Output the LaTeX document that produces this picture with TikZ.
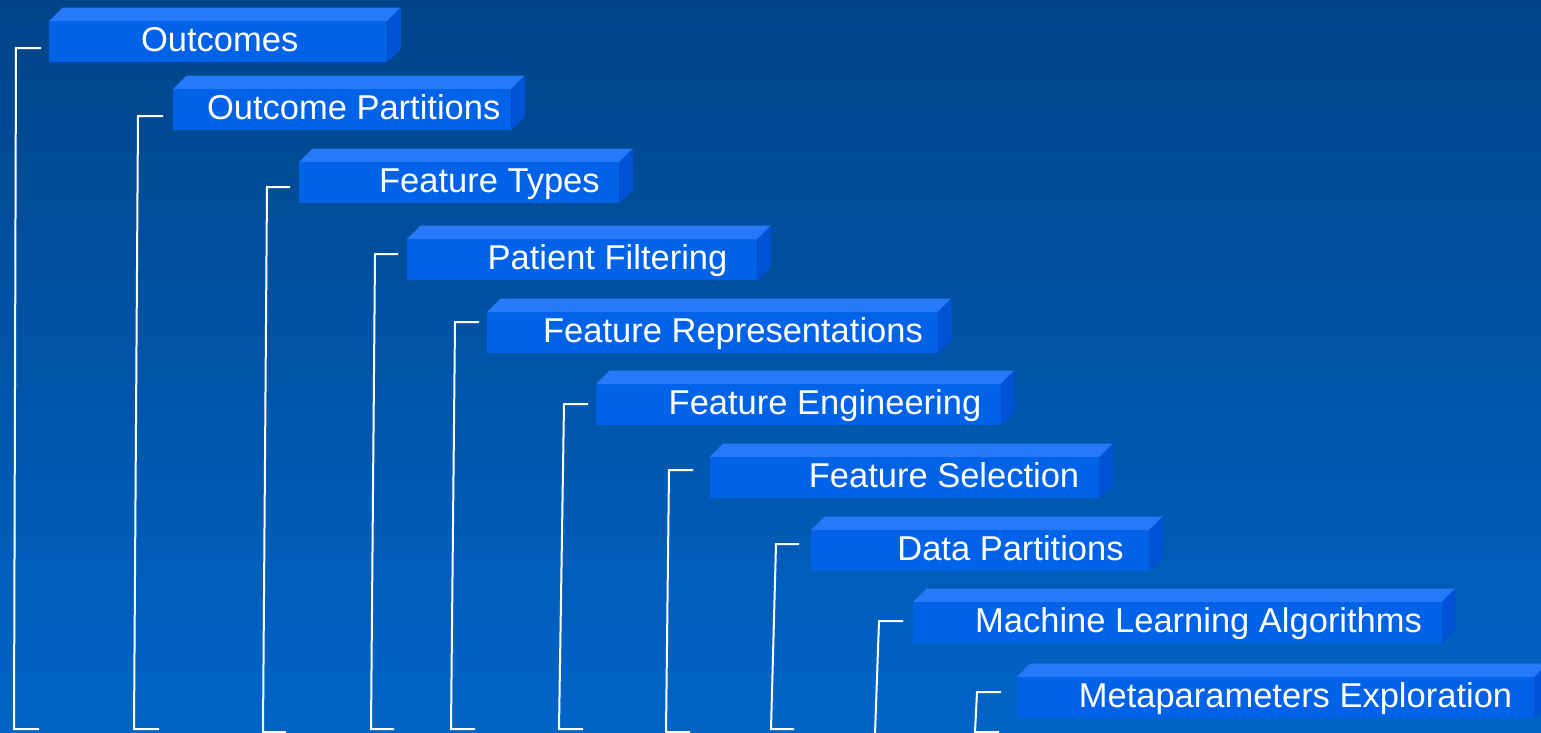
\documentclass[tikz,border=0pt]{standalone}
\usepackage{fontspec}
\setmainfont{Liberation Sans}
\definecolor{bgtop}{RGB}{0,68,136}
\definecolor{bgbottom}{RGB}{0,100,199}
\definecolor{barfront}{RGB}{0,98,230}
\definecolor{bartop}{RGB}{38,122,247}
\definecolor{barside}{RGB}{0,82,214}
\begin{document}
\begin{tikzpicture}[x=1pt,y=-1pt]
\tikzstyle{every node}+=[inner sep=0pt]
\tikzstyle{front}=[fill=barfront, minimum height=41pt, anchor=north west]
\tikzstyle{lbl}=[text=white, font=\fontsize{34.5}{40}\selectfont, anchor=base]
\tikzstyle{bracket}=[white, line width=2pt]
\useasboundingbox (0,0) rectangle (1541,732);
\shade [top color=bgtop, bottom color=bgbottom] (0,0) rectangle (1541,732);
% Outcomes
\node [front, minimum width=338pt] (b1) at (49,21) {};
\fill [bartop] (b1.north west) -- ++(13.5,-13.5) -- ([shift={(13.5,-13.5)}]b1.north east) -- (b1.north east) -- cycle;
\fill [barside] (b1.north east) -- ++(13.5,-13.5) -- ([shift={(13.5,-13.5)}]b1.south east) -- (b1.south east) -- cycle;
\node [lbl] (t1) at (219.7,51.5) {Outcomes};
\draw [bracket] ([shift={(-8,6.5)}]b1.west) -- ++(-25,0) -- ++(-2,681) -- ++(25,0);
% Outcome Partitions
\node [front, minimum width=338pt] (b2) at (173,89) {};
\fill [bartop] (b2.north west) -- ++(13.5,-13.5) -- ([shift={(13.5,-13.5)}]b2.north east) -- (b2.north east) -- cycle;
\fill [barside] (b2.north east) -- ++(13.5,-13.5) -- ([shift={(13.5,-13.5)}]b2.south east) -- (b2.south east) -- cycle;
\node [lbl] (t2) at (353.7,119.5) {Outcome Partitions};
\draw [bracket] ([shift={(-10,6.5)}]b2.west) -- ++(-25,0) -- ++(-4,613) -- ++(25,0);
% Feature Types
\node [front, minimum width=320pt] (b3) at (299,162) {};
\fill [bartop] (b3.north west) -- ++(13.5,-13.5) -- ([shift={(13.5,-13.5)}]b3.north east) -- (b3.north east) -- cycle;
\fill [barside] (b3.north east) -- ++(13.5,-13.5) -- ([shift={(13.5,-13.5)}]b3.south east) -- (b3.south east) -- cycle;
\node [lbl] (t3) at (489.4,192.5) {Feature Types};
\draw [bracket] ([shift={(-9,4.5)}]b3.west) -- ++(-23,0) -- ++(-4,545) -- ++(23,0);
% Patient Filtering
\node [front, minimum width=350pt] (b4) at (407,239) {};
\fill [bartop] (b4.north west) -- ++(13.5,-13.5) -- ([shift={(13.5,-13.5)}]b4.north east) -- (b4.north east) -- cycle;
\fill [barside] (b4.north east) -- ++(13.5,-13.5) -- ([shift={(13.5,-13.5)}]b4.south east) -- (b4.south east) -- cycle;
\node [lbl] (t4) at (607.5,269.5) {Patient Filtering};
\draw [bracket] ([shift={(-9,-5.5)}]b4.west) -- ++(-23,0) -- ++(-4,475) -- ++(23,0);
% Feature Representations
\node [front, minimum width=450.5pt] (b5) at (487,312) {};
\fill [bartop] (b5.north west) -- ++(13.5,-13.5) -- ([shift={(13.5,-13.5)}]b5.north east) -- (b5.north east) -- cycle;
\fill [barside] (b5.north east) -- ++(13.5,-13.5) -- ([shift={(13.5,-13.5)}]b5.south east) -- (b5.south east) -- cycle;
\node [lbl] (t5) at (733,342.5) {Feature Representations};
\draw [bracket] ([shift={(-8,-10.5)}]b5.west) -- ++(-24,0) -- ++(-4,407) -- ++(24,0);
% Feature Engineering
\node [front, minimum width=404.5pt] (b6) at (596,384) {};
\fill [bartop] (b6.north west) -- ++(13.5,-13.5) -- ([shift={(13.5,-13.5)}]b6.north east) -- (b6.north east) -- cycle;
\fill [barside] (b6.north east) -- ++(13.5,-13.5) -- ([shift={(13.5,-13.5)}]b6.south east) -- (b6.south east) -- cycle;
\node [lbl] (t6) at (825,414.5) {Feature Engineering};
\draw [bracket] ([shift={(-8,-0.5)}]b6.west) -- ++(-24,0) -- ++(-5,325) -- ++(24,0);
% Feature Selection
\node [front, minimum width=389.5pt] (b7) at (709.5,457) {};
\fill [bartop] (b7.north west) -- ++(13.5,-13.5) -- ([shift={(13.5,-13.5)}]b7.north east) -- (b7.north east) -- cycle;
\fill [barside] (b7.north east) -- ++(13.5,-13.5) -- ([shift={(13.5,-13.5)}]b7.south east) -- (b7.south east) -- cycle;
\node [lbl] (t7) at (944,487.5) {Feature Selection};
\draw [bracket] ([shift={(-16.5,-7.5)}]b7.west) -- ++(-24,0) -- ++(-3,262) -- ++(24,0);
% Data Partitions
\node [front, minimum width=338pt] (b8) at (811,530) {};
\fill [bartop] (b8.north west) -- ++(13.5,-13.5) -- ([shift={(13.5,-13.5)}]b8.north east) -- (b8.north east) -- cycle;
\fill [barside] (b8.north east) -- ++(13.5,-13.5) -- ([shift={(13.5,-13.5)}]b8.south east) -- (b8.south east) -- cycle;
\node [lbl] (t8) at (1010.5,560.5) {Data Partitions};
\draw [bracket] ([shift={(-12,-6.5)}]b8.west) -- ++(-23,0) -- ++(-5,185) -- ++(23,0);
% Machine Learning Algorithms
\node [front, minimum width=528.5pt] (b9) at (913,602) {};
\fill [bartop] (b9.north west) -- ++(13.5,-13.5) -- ([shift={(13.5,-13.5)}]b9.north east) -- (b9.north east) -- cycle;
\fill [barside] (b9.north east) -- ++(13.5,-13.5) -- ([shift={(13.5,-13.5)}]b9.south east) -- (b9.south east) -- cycle;
\node [lbl] (t9) at (1198.6,632.5) {Machine Learning Algorithms};
\draw [bracket] ([shift={(-10,-1.5)}]b9.west) -- ++(-24,0) -- ++(-4,113) -- ++(24,0);
% Metaparameters Exploration
\node [front, minimum width=517.5pt] (b10) at (1016.5,677) {};
\fill [bartop] (b10.north west) -- ++(13.5,-13.5) -- ([shift={(13.5,-13.5)}]b10.north east) -- (b10.north east) -- cycle;
\fill [barside] (b10.north east) -- ++(13.5,-13.5) -- ([shift={(13.5,-13.5)}]b10.south east) -- (b10.south east) -- cycle;
\node [lbl] (t10) at (1295.5,707.5) {Metaparameters Exploration};
\draw [bracket] ([shift={(-15.5,-5.5)}]b10.west) -- ++(-24,0) -- ++(-2,40) -- ++(24,0);
\end{tikzpicture}
\end{document}
